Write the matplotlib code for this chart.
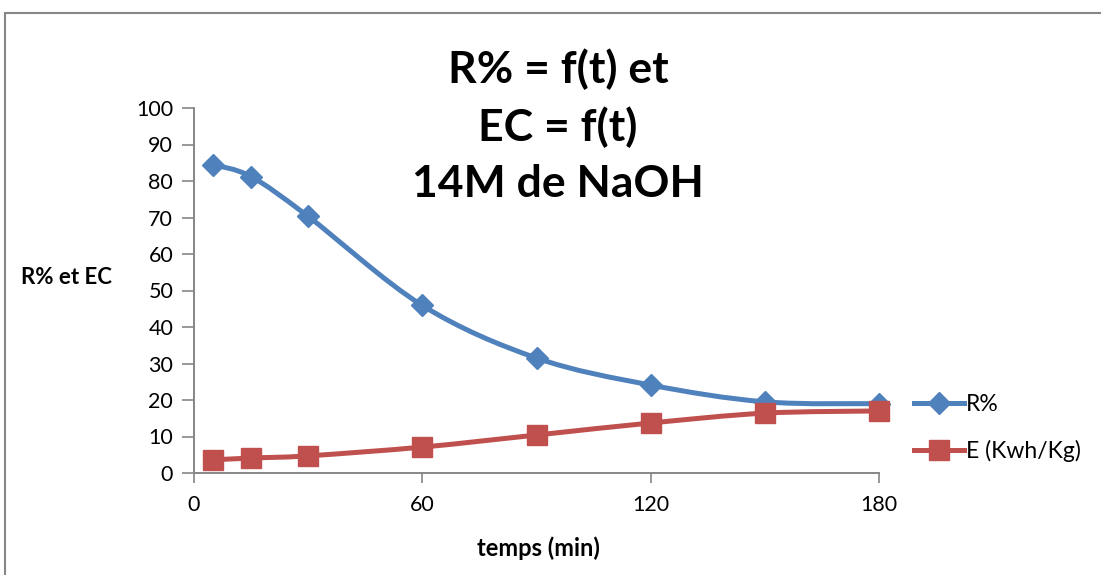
import matplotlib
matplotlib.use("Agg")
import matplotlib.pyplot as plt
import numpy as np
from matplotlib.path import Path
from matplotlib.patches import PathPatch, Rectangle
from matplotlib.lines import Line2D

# data
temps = [5, 15, 30, 60, 90, 120, 150, 180]
r_pct = [84.5, 81.2, 70.3, 45.9, 31.5, 24.1, 19.5, 19.0]
energie = [3.6, 4.1, 4.7, 7.1, 10.4, 13.7, 16.4, 17.0]
x_ticks = [0, 60, 120, 180]
y_ticks = list(range(0, 101, 10))

BLUE = "#4F81BD"
RED = "#C0504D"
GRAY = "#868686"

plt.rcParams["font.family"] = ["Lato", "DejaVu Sans"]


def smooth_path(x, y):
    """Excel-like smoothed line as cubic bezier through the points."""
    pts = np.column_stack([x, y]).astype(float)
    ext = np.vstack([pts[0], pts, pts[-1]])
    verts = [pts[0]]
    codes = [Path.MOVETO]
    for i in range(len(pts) - 1):
        p0, p1, p2, p3 = ext[i], ext[i + 1], ext[i + 2], ext[i + 3]
        c1 = p1 + (p2 - p0) / 6
        c2 = p2 - (p3 - p1) / 6
        verts += [c1, c2, p2]
        codes += [Path.CURVE4] * 3
    return Path(verts, codes)


fig = plt.figure(figsize=(11.01, 5.75), dpi=100)
ax = fig.add_axes([194 / 1101, 1 - 473 / 575, (879 - 194) / 1101, (473 - 108) / 575])

for xs, ys, col, mk, ms in [(temps, r_pct, BLUE, "D", 11), (temps, energie, RED, "s", 14)]:
    ax.add_patch(PathPatch(smooth_path(xs, ys), facecolor="none", edgecolor=col,
                           lw=3.6, capstyle="round", zorder=2, clip_on=False))
    ax.plot(xs, ys, linestyle="none", marker=mk, ms=ms, color=col, zorder=3, clip_on=False)

ax.set_xlim(0, 180)
ax.set_ylim(0, 100)
ax.set_xticks(x_ticks)
ax.set_yticks(y_ticks)
ax.tick_params(labelsize=15.5, colors=GRAY, labelcolor="black", width=1.2)
ax.tick_params(axis="x", length=7, pad=9)
ax.tick_params(axis="y", length=9, pad=6)
for s in ["top", "right"]:
    ax.spines[s].set_visible(False)
for s in ["left", "bottom"]:
    ax.spines[s].set_color(GRAY)
    ax.spines[s].set_linewidth(1.4)

fig.text(538 / 1101, 1 - 548 / 575, "temps (min)", fontsize=17, fontweight="bold",
         ha="center", va="center")
fig.text(21 / 1101, 1 - 278 / 575, "R% et EC", fontsize=16, fontweight="bold", va="center")

fig.text(558 / 1101, 1 - 126 / 575, "R% = f(t) et\nEC = f(t)\n14M de NaOH", fontsize=32,
         fontweight="bold", ha="center", va="center", linespacing=1.47)

handles = [Line2D([], [], color=BLUE, lw=3.6, marker="D", ms=11),
           Line2D([], [], color=RED, lw=3.6, marker="s", ms=14)]
fig.legend(handles, ["R%", "E (Kwh/Kg)"], loc="center left",
           bbox_to_anchor=(893 / 1101, 1 - 428 / 575), frameon=False, fontsize=16.5,
           handlelength=2.2, handletextpad=0.1, labelspacing=1.05)

fig.patches.append(Rectangle((5 / 1101, -0.1), 1.2, 1.1 - 13 / 575, transform=fig.transFigure,
                             fill=False, edgecolor=GRAY, lw=1.5))

fig.savefig("out.png", dpi=100)
